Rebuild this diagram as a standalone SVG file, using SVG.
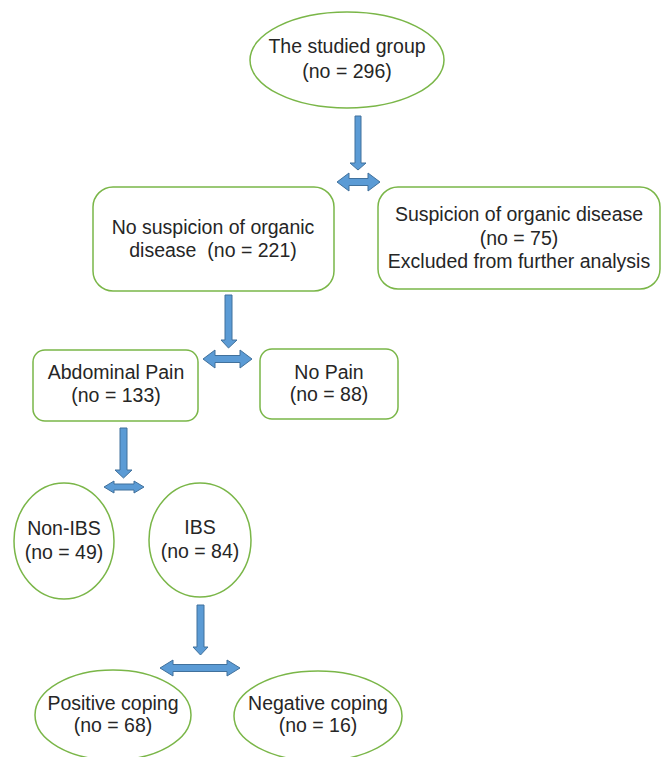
<svg xmlns="http://www.w3.org/2000/svg" width="662" height="757" viewBox="0 0 662 757">
<style>
.n{fill:#fff;stroke:#7ab648;stroke-width:1.5}
.t{font-family:"Liberation Sans",Arial,sans-serif;font-size:19.5px;fill:#262626;text-anchor:middle;white-space:pre}
.a{fill:#5b9bd5;stroke:#41719c;stroke-width:1}
</style>
<rect width="662" height="757" fill="#fff"/>
<g id="connectors">
<polygon class="a" points="355,116 361,116 361,163 366,163 358,170 350,163 355,163"/>
<polygon class="a" points="337,182 349,173 349,178.5 368,178.5 368,173 380,182 368,191 368,185.5 349,185.5 349,191"/>
<polygon class="a" points="225,295 232,295 232,340 237,340 228.5,348 221,340 225,340"/>
<polygon class="a" points="203,359 215,350 215,355.5 240,355.5 240,350 252,359 240,368 240,362.5 215,362.5 215,368"/>
<polygon class="a" points="120,428 127,428 127,470 132,470 123.5,478 115,470 120,470"/>
<polygon class="a" points="104,487 114,481 114,484 134,484 134,481 144,487 134,493 134,490 114,490 114,493"/>
<polygon class="a" points="197,605 204,605 204,647 208,647 200.5,655 193,647 197,647"/>
<polygon class="a" points="160,668 173,660 173,664.5 227,664.5 227,660 240,668 227,676 227,671.5 173,671.5 173,676"/>
</g>
<g id="studied">
<ellipse class="n" cx="347" cy="60" rx="97" ry="48"/>
<text class="t" x="347" y="53">The studied group</text>
<text class="t" x="347" y="78">(no = 296)</text>
</g>
<g id="nosuspicion">
<rect class="n" x="93" y="187" width="241" height="104" rx="20"/>
<text class="t" x="213" y="234">No suspicion of organic</text>
<text class="t" x="213" y="257">disease  (no = 221)</text>
</g>
<g id="suspicion">
<rect class="n" x="378" y="187" width="282" height="102" rx="20"/>
<text class="t" x="519" y="221">Suspicion of organic disease</text>
<text class="t" x="519" y="245">(no = 75)</text>
<text class="t" x="519" y="268">Excluded from further analysis</text>
</g>
<g id="abdominal">
<rect class="n" x="33" y="350" width="165" height="71" rx="12"/>
<text class="t" x="116" y="379">Abdominal Pain</text>
<text class="t" x="116" y="402">(no = 133)</text>
</g>
<g id="nopain">
<rect class="n" x="260" y="349" width="138" height="70" rx="12"/>
<text class="t" x="329" y="379">No Pain</text>
<text class="t" x="329" y="401">(no = 88)</text>
</g>
<g id="nonibs">
<ellipse class="n" cx="64" cy="541" rx="50" ry="58"/>
<text class="t" x="64" y="535">Non-IBS</text>
<text class="t" x="64" y="559">(no = 49)</text>
</g>
<g id="ibs">
<ellipse class="n" cx="200" cy="540" rx="51" ry="57"/>
<text class="t" x="200" y="534">IBS</text>
<text class="t" x="200" y="558">(no = 84)</text>
</g>
<g id="positive">
<ellipse class="n" cx="113" cy="715" rx="78" ry="45"/>
<text class="t" x="113" y="710">Positive coping</text>
<text class="t" x="113" y="732">(no = 68)</text>
</g>
<g id="negative">
<ellipse class="n" cx="318" cy="716" rx="84" ry="45"/>
<text class="t" x="318" y="710">Negative coping</text>
<text class="t" x="318" y="732">(no = 16)</text>
</g>
</svg>
